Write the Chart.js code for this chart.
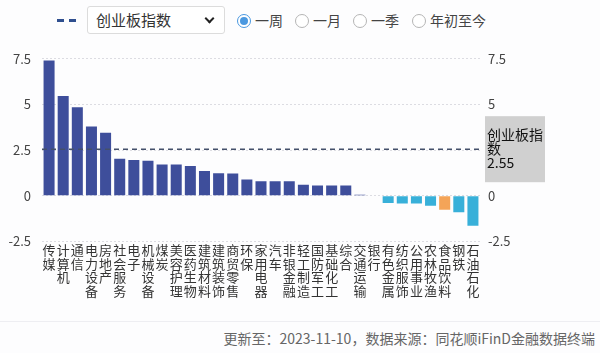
<!DOCTYPE html>
<html>
<head>
<meta charset="utf-8">
<script src="https://cdn.jsdelivr.net/npm/chart.js@4.4.0/dist/chart.umd.min.js"></script>
<style>
  body { margin: 0; width: 600px; height: 353px; background: #fdfdfe; font-family: "Noto Sans CJK SC", "Noto Sans", sans-serif; overflow: hidden; position: relative; }
  #head { position: absolute; left: 0; top: 0; width: 600px; height: 40px; }
  .dash { position: absolute; left: 57px; top: 19px; width: 19px; height: 3px;
    background: repeating-linear-gradient(90deg, #2f4f8f 0 7px, transparent 7px 12px); }
  .sel { position: absolute; left: 87px; top: 6px; width: 138px; height: 28px; box-sizing: border-box;
    border: 1px solid #dcdcdc; border-radius: 3px; background: #fff; font-size: 15px; color: #333; line-height: 26px; padding-left: 8px; }
  .sel .chev { position: absolute; right: 11px; top: 8px; width: 5px; height: 5px; border-right: 2px solid #222; border-bottom: 2px solid #222; transform: rotate(45deg); }
  .radio { position: absolute; top: 10px; font-size: 14px; color: #444; line-height: 20px; white-space: nowrap; }
  .radio i { display: inline-block; width: 14px; height: 14px; border: 1px solid #b5b5b5; border-radius: 50%; vertical-align: -2px; margin-right: 4px; box-sizing: border-box; position: relative; background: #fff; }
  .radio.on i { border-color: #4a98e0; }
  .radio.on i::after { content: ""; position: absolute; left: 2px; top: 2px; width: 8px; height: 8px; border-radius: 50%; background: #4a98e0; }
  #wrap { position: absolute; left: 0; top: 40px; width: 600px; height: 280px; }
  #sep { position: absolute; left: 0; top: 321px; width: 600px; height: 1px; background: #eeeef2; }
  #foot { position: absolute; right: 5px; top: 328px; font-size: 14px; color: #666; white-space: nowrap; }
</style>
</head>
<body>
<div id="head">
  <div class="dash"></div>
  <div class="sel">创业板指数<span class="chev"></span></div>
  <div class="radio on" style="left:237px"><i></i>一周</div>
  <div class="radio" style="left:295px"><i></i>一月</div>
  <div class="radio" style="left:353px"><i></i>一季</div>
  <div class="radio" style="left:412px"><i></i>年初至今</div>
</div>
<div id="wrap"><canvas id="chart" width="600" height="280"></canvas></div>
<div id="sep"></div>
<div id="foot">更新至：2023-11-10，数据来源：同花顺iFinD金融数据终端</div>
<script>
// industries, weekly change (%)
var industries = ['传媒', '计算机', '通信', '电力设备', '房地产', '社会服务', '电子', '机械设备', '煤炭', '美容护理',
  '医药生物', '建筑材料', '建筑装饰', '商贸零售', '环保', '家用电器', '汽车', '非银金融', '轻工制造', '国防军工',
  '基础化工', '综合', '交通运输', '银行', '有色金属', '纺织服饰', '公用事业', '农林牧渔', '食品饮料', '钢铁', '石油石化'];
var changes = [7.41, 5.46, 4.85, 3.79, 3.45, 2.02, 1.96, 1.91, 1.71, 1.71,
  1.63, 1.36, 1.23, 1.22, 0.89, 0.80, 0.80, 0.80, 0.60, 0.56,
  0.56, 0.56, 0.05, 0, -0.40, -0.42, -0.42, -0.55, -0.77, -0.91, -1.64];
var highlighted = '食品饮料';
var indexName = '创业板指数';
var indexChange = 2.55;
var yTicks = [-2.5, 0, 2.5, 5, 7.5];

var barColors = industries.map(function (name, i) {
  if (name === highlighted) return '#f4a458';
  return changes[i] >= 0 ? '#3e4e9b' : '#38b0d9';
});

// dashed index line + grey label box on the right
var indexLine = {
  id: 'indexLine',
  afterDatasetsDraw: function (chart) {
    var ctx = chart.ctx;
    var area = chart.chartArea;
    var y = chart.scales.y.getPixelForValue(indexChange);
    ctx.save();
    ctx.strokeStyle = '#44506a';
    ctx.lineWidth = 1.5;
    ctx.setLineDash([5, 4]);
    ctx.beginPath();
    ctx.moveTo(area.left, y);
    ctx.lineTo(area.right, y);
    ctx.stroke();
    ctx.setLineDash([]);
    var bx = area.right + 5;
    ctx.fillStyle = '#d0d0d0';
    ctx.fillRect(bx, y - 33, 60, 66);
    ctx.fillStyle = '#111';
    ctx.font = '14px "Noto Sans CJK SC"';
    ctx.textBaseline = 'middle';
    ctx.fillText(indexName.slice(0, 4), bx + 2, y - 14);
    ctx.fillText(indexName.slice(4), bx + 2, y);
    ctx.fillText(indexChange.toFixed(2), bx + 2, y + 14);
    ctx.restore();
  }
};

var tickFont = { family: '"Noto Sans CJK SC", "Noto Sans"', size: 13 };

new Chart(document.getElementById('chart'), {
  type: 'bar',
  data: {
    labels: industries.map(function (s) { return s.split(''); }),
    datasets: [{
      data: changes,
      backgroundColor: barColors,
      categoryPercentage: 1,
      barPercentage: 0.78
    }]
  },
  options: {
    responsive: false,
    animation: false,
    layout: { padding: { left: 0, right: 0, top: 10, bottom: 20 } },
    plugins: { legend: { display: false }, tooltip: { enabled: false } },
    scales: {
      x: {
        grid: { display: false, drawTicks: false },
        border: { display: false },
        ticks: { autoSkip: false, maxRotation: 0, minRotation: 0, color: '#333', padding: 2,
          font: { family: tickFont.family, size: 13, lineHeight: 1.05 } }
      },
      y: {
        position: 'left',
        min: -2.5, max: 7.5,
        afterBuildTicks: function (axis) { axis.ticks = yTicks.map(function (v) { return { value: v }; }); },
        afterFit: function (axis) { axis.width = 42; },
        grid: { color: '#dcdce2', lineWidth: 1, drawTicks: false },
        border: { display: false, dash: [2, 2] },
        ticks: { color: '#444', font: tickFont, padding: 11 }
      },
      y2: {
        position: 'right',
        min: -2.5, max: 7.5,
        afterBuildTicks: function (axis) { axis.ticks = yTicks.map(function (v) { return { value: v }; }); },
        afterFit: function (axis) { axis.width = 120; },
        grid: { display: false, drawTicks: false },
        border: { display: false },
        ticks: { color: '#444', font: tickFont, padding: 8 }
      }
    }
  },
  plugins: [indexLine]
});
</script>
</body>
</html>
